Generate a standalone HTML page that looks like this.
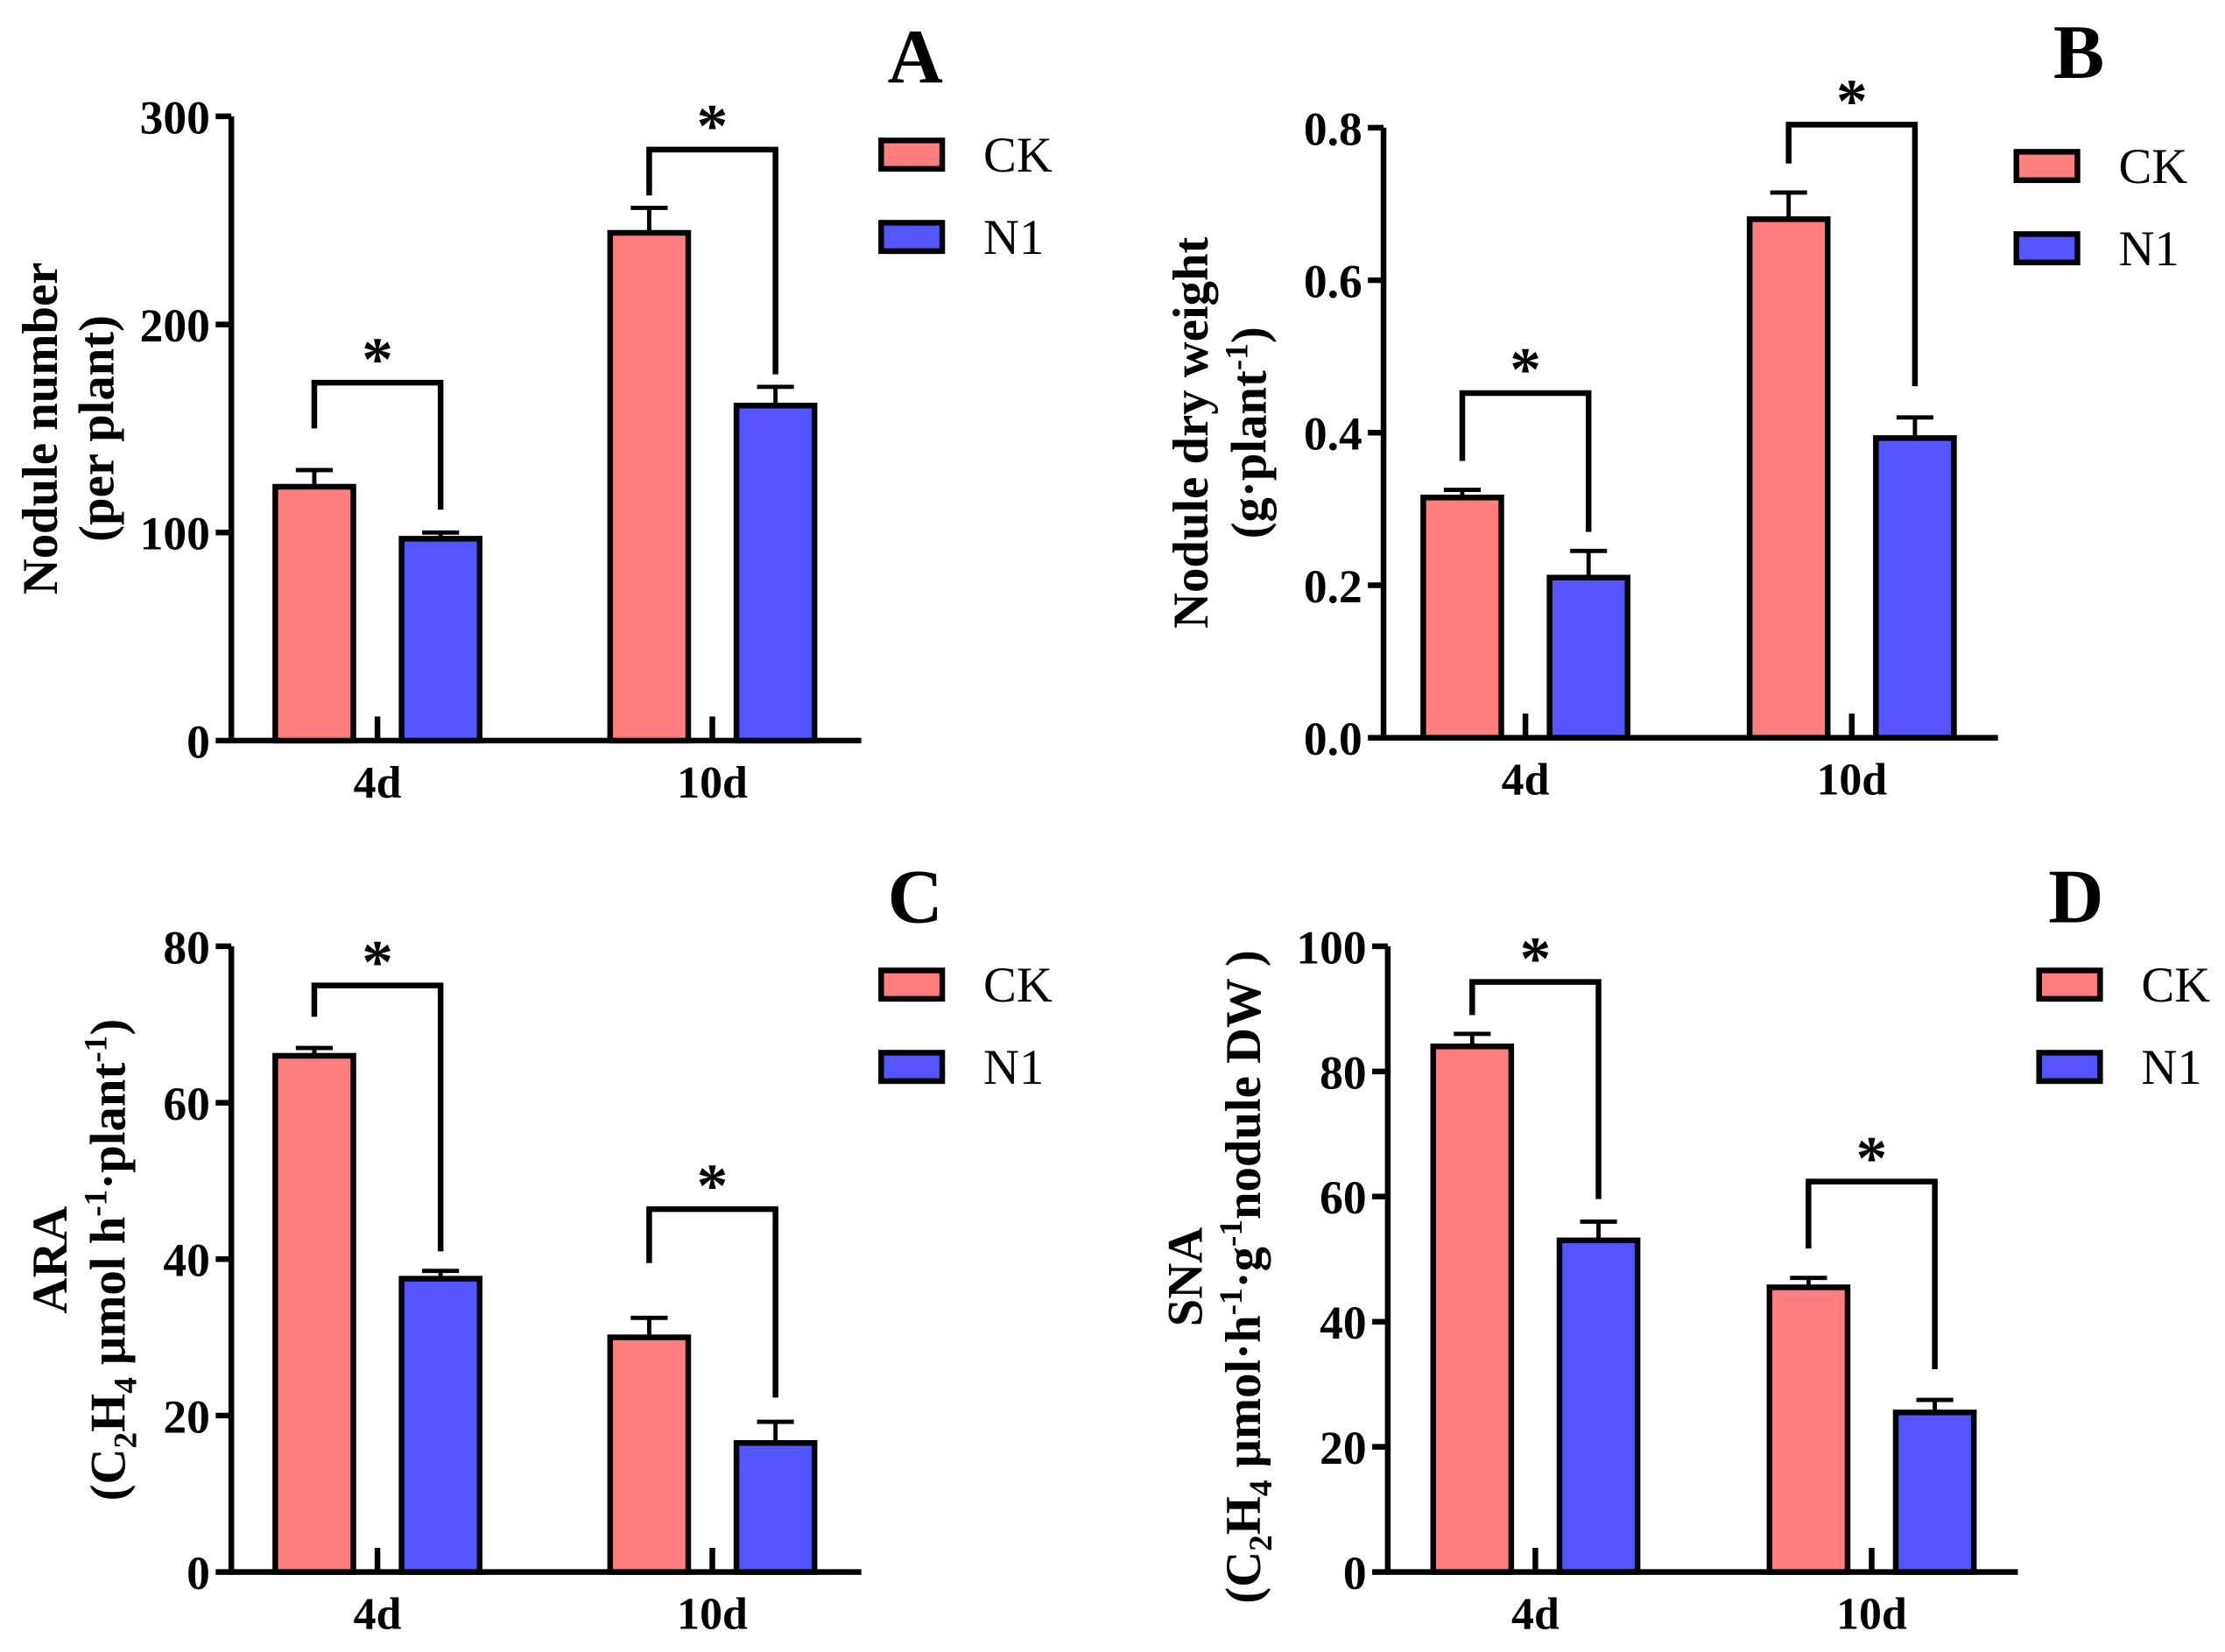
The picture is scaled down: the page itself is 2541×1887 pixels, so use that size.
<!DOCTYPE html>
<html><head><meta charset="utf-8"><style>
html,body{margin:0;padding:0;background:#fff}
svg{display:block}
text{font-family:"Liberation Serif",serif;font-weight:bold;fill:#000}
</style></head><body>
<svg id="chart" width="2541" height="1887" viewBox="0 0 1568 1164.4" preserveAspectRatio="none" xmlns="http://www.w3.org/2000/svg">
<g id="root"></g>
</svg>
<script>
const categories = ["4d", "10d"];
const seriesNames = ["CK", "N1"];
// Panel A
const aCK = [122, 244], aCKerr = [8, 12], aN1 = [97, 161], aN1err = [3, 9];
const aTicks = [0, 100, 200, 300];
const aBr = [[172, 150, 111], [284, 262, 176]];
// Panel B
const bCK = [0.315, 0.68], bCKerr = [0.01, 0.035], bN1 = [0.21, 0.393], bN1err = [0.035, 0.027];
const bTicks = ["0.0", "0.2", "0.4", "0.6", "0.8"];
const bBr = [[0.452, 0.363, 0.27], [0.804, 0.753, 0.461]];
// Panel C
const cCK = [66, 30], cCKerr = [1, 2.5], cN1 = [37.5, 16.5], cN1err = [1, 2.7];
const cTicks = [0, 20, 40, 60, 80];
const cBr = [[75, 71, 41], [46.4, 39.5, 22.3]];
// Panel D
const dCK = [84, 45.5], dCKerr = [2, 1.5], dN1 = [53, 25.5], dN1err = [3, 2];
const dTicks = [0, 20, 40, 60, 80, 100];
const dBr = [[94.3, 89, 59.6], [62.4, 51.7, 32.4]];

const NS = "http://www.w3.org/2000/svg";
const root = document.getElementById("root");
function el(tag, attrs, parent, txt) {
  const e = document.createElementNS(NS, tag);
  for (const k in attrs) e.setAttribute(k, attrs[k]);
  if (txt !== undefined) e.textContent = txt;
  (parent || root).appendChild(e);
  return e;
}
const colors = ["#FF7F7F", "#5555FF"];

function panel(p) {
  const g = el("g", {});
  
  
  const y = v => p.y0 - (v - p.min) / (p.max - p.min) * (p.y0 - p.yTop);
  const ax = el("path", {d: `M${p.ax},${p.yTop} L${p.ax},${p.y0} L${p.xEnd},${p.y0}`, fill: "none", stroke: "#000", "stroke-width": 4}, g);
  
  
  p.ticks.forEach(t => {
    const v = parseFloat(t);
    el("line", {x1: p.ax - 11, x2: p.ax, y1: y(v), y2: y(v), stroke: "#000", "stroke-width": 4}, g);
    const tl = el("text", {x: p.ax - 15, y: y(v) + 12, "text-anchor": "end", "font-size": 33}, g, t);
    
    
  });
  const series = [[p.ck, p.ckErr], [p.n1, p.n1Err]];
  categories.forEach((c, i) => {
    const cx = p.centers[i];
    el("line", {x1: cx, x2: cx, y1: p.y0 - 17, y2: p.y0, stroke: "#000", "stroke-width": 4}, g);
    const cl = el("text", {x: cx, y: p.y0 + 40, "text-anchor": "middle", "font-size": 32}, g, c);
    
    
    const bx = [cx - 72, cx + 17];
    series.forEach((s, j) => {
      const v = s[0][i], e = s[1][i];
      const x0 = bx[j], w = 55, xm = x0 + w / 2;
      el("line", {x1: xm, x2: xm, y1: y(v), y2: y(v + e), stroke: "#000", "stroke-width": 3}, g);
      el("line", {x1: xm - 13, x2: xm + 13, y1: y(v + e), y2: y(v + e), stroke: "#000", "stroke-width": 3}, g);
      const r = el("rect", {x: x0, y: y(v), width: w, height: p.y0 - y(v), fill: colors[j], stroke: "#000", "stroke-width": 4}, g);
      
      
    });
    const br = p.br[i], l = bx[0] + 27.5, rr = bx[1] + 27.5;
    const b = el("path", {d: `M${l},${y(br[1])} L${l},${y(br[0])} L${rr},${y(br[0])} L${rr},${y(br[2])}`, fill: "none", stroke: "#000", "stroke-width": 4}, g);
    
    
    const st = el("text", {x: (l + rr) / 2, y: y(br[0]) - 2, "text-anchor": "middle", "font-size": 44}, g, "*");
    
    
  });
  const lt = el("text", {x: p.lx, y: p.ly, "text-anchor": "middle", "font-size": 54}, g, p.letter);
  
  
  seriesNames.forEach((n, j) => {
    const yy = p.legY + j * 58;
    const lr = el("rect", {x: p.legX, y: yy, width: 43, height: 20, fill: colors[j], stroke: "#000", "stroke-width": 4}, g);
    
    
    const ltx = el("text", {x: p.legX + 72, y: yy + 22, "font-size": 35, style: "font-weight:normal"}, g, n);
    
    
  });
  p.ylab.forEach((line, k) => {
    const t = el("text", {transform: `translate(${p.ylx[k]},${p.lyc}) rotate(-90)`, "text-anchor": "middle", "font-size": 35}, g);
    t.innerHTML = line;
    
    
  });
}

const SUP = (s) => `<tspan dy='-13' font-size='23'>${s}</tspan>`;
panel({letter: "A", ax: 163, xEnd: 607, y0: 522, yTop: 82, min: 0, max: 300, ticks: aTicks.map(String),
  centers: [266, 502], ck: aCK, ckErr: aCKerr, n1: aN1, n1Err: aN1err, br: aBr,
  lx: 645, ly: 58, legX: 621, legY: 99,
  ylab: ["Nodule number", "(per plant)"], ylx: [40, 80], lyc: 302});
panel({letter: "B", ax: 975, xEnd: 1408, y0: 520, yTop: 90, min: 0, max: 0.8, ticks: bTicks,
  centers: [1075, 1305], ck: bCK, ckErr: bCKerr, n1: bN1, n1Err: bN1err, br: bBr,
  lx: 1465, ly: 55, legX: 1421, legY: 107,
  ylab: ["Nodule dry weight", "(g·plant<tspan dy='-13' font-size='23'>-1</tspan><tspan dy='13'>)</tspan>"], ylx: [851, 892], lyc: 305});
panel({letter: "C", ax: 163, xEnd: 607, y0: 1108, yTop: 667, min: 0, max: 80, ticks: cTicks.map(String),
  centers: [266, 502], ck: cCK, ckErr: cCKerr, n1: cN1, n1Err: cN1err, br: cBr,
  lx: 645, ly: 650, legX: 621, legY: 684,
  ylab: ["ARA", "(C<tspan dy='8' font-size='23'>2</tspan><tspan dy='-8'>H</tspan><tspan dy='8' font-size='23'>4</tspan><tspan dy='-8'> μmol h</tspan><tspan dy='-13' font-size='23'>-1</tspan><tspan dy='13'>·plant</tspan><tspan dy='-13' font-size='23'>-1</tspan><tspan dy='13'>)</tspan>"], ylx: [47, 88], lyc: 888});
panel({letter: "D", ax: 978, xEnd: 1422, y0: 1108, yTop: 667, min: 0, max: 100, ticks: dTicks.map(String),
  centers: [1082, 1319], ck: dCK, ckErr: dCKerr, n1: dN1, n1Err: dN1err, br: dBr,
  lx: 1463, ly: 650, legX: 1437, legY: 684,
  ylab: ["SNA", "(C<tspan dy='8' font-size='23'>2</tspan><tspan dy='-8'>H</tspan><tspan dy='8' font-size='23'>4</tspan><tspan dy='-8'> μmol·h</tspan><tspan dy='-13' font-size='23'>-1</tspan><tspan dy='13'>·g</tspan><tspan dy='-13' font-size='23'>-1</tspan><tspan dy='13'>nodule DW )</tspan>"], ylx: [847, 888], lyc: 900});
</script>
</body></html>
